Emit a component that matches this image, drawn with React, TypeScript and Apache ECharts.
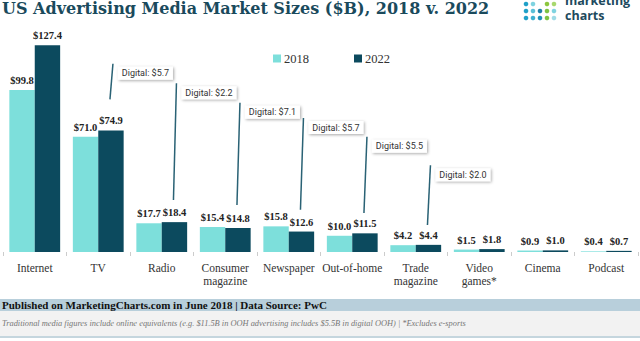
import React, { useEffect, useRef } from "react";
import * as echarts from "echarts";

const categories = [
  "Internet",
  "TV",
  "Radio",
  "Consumer\nmagazine",
  "Newspaper",
  "Out-of-home",
  "Trade\nmagazine",
  "Video\ngames*",
  "Cinema",
  "Podcast",
];
const values2018 = [99.8, 71.0, 17.7, 15.4, 15.8, 10.0, 4.2, 1.5, 0.9, 0.4];
const values2022 = [127.4, 74.9, 18.4, 14.8, 12.6, 11.5, 4.4, 1.8, 1.0, 0.7];

// digital callouts: category index, line top ($B), line bottom ($B), label
const digitalCats = [1, 2, 3, 4, 5, 6];
const digitalTop = [116, 104, 92, 82.5, 71, 53.5];
const digitalBottom = [94, 32, 29, 26, 24, 16.6];
const digitalLabels = [
  "Digital: $5.7",
  "Digital: $2.2",
  "Digital: $7.1",
  "Digital: $5.7",
  "Digital: $5.5",
  "Digital: $2.0",
];

const C2018 = "#7ddfdb";
const C2022 = "#0c4a5e";
const SERIF = "'Liberation Serif', serif";

export default function App() {
  const ref = useRef<HTMLDivElement>(null);
  useEffect(() => {
    if (!ref.current) return;
    const chart = echarts.init(ref.current, undefined, { renderer: "svg" });
    const valueLabel = {
      show: true,
      position: "top",
      distance: 4,
      fontFamily: SERIF,
      fontWeight: "bold",
      fontSize: 10.5,
      color: "#222",
      formatter: (p: any) => "$" + Number(p.value).toFixed(1),
    };
    const dotColors = [
      ["#1fa0c8", "#7fd3e0", null, "#8cc63e", "#a8d86e"],
      ["#1fa0c8", "#5bc0d8", "#1f7fa8", "#7cc242", "#7fd3e0"],
      ["#1fa0c8", "#3fb0d0", "#1f90b8", "#7cc242", "#9fdbe6"],
    ];
    const dots: any[] = [];
    dotColors.forEach((row, r) =>
      row.forEach((c, col) => {
        if (c)
          dots.push({
            type: "circle",
            shape: { cx: 526 + col * 7, cy: 4 + r * 7, r: 2.3 },
            style: { fill: c },
          });
      })
    );
    chart.setOption({
      animation: false,
      title: {
        text: "US Advertising Media Market Sizes ($B), 2018 v. 2022",
        left: 2,
        top: 0,
        padding: 0,
        textStyle: {
          fontFamily: "'DejaVu Serif', serif",
          fontWeight: "bold",
          fontSize: 16,
          color: "#1a4a5c",
        },
      },
      legend: {
        data: ["2018", "2022"],
        left: 268,
        top: 47,
        itemWidth: 8,
        itemHeight: 8,
        itemGap: 45,
        icon: "rect",
        textStyle: { fontFamily: SERIF, fontSize: 12.5, color: "#333", padding: [0, 0, 0, -2] },
      },
      grid: { left: 3, right: 2, top: 41, bottom: 89 },
      xAxis: {
        type: "category",
        data: categories,
        axisLine: { show: false },
        axisTick: { show: true, length: 4, lineStyle: { color: "#ccc" } },
        axisLabel: {
          fontFamily: SERIF,
          fontSize: 11.5,
          color: "#333",
          margin: 9,
          lineHeight: 13,
          interval: 0,
        },
      },
      yAxis: {
        type: "value",
        min: 0,
        max: 130,
        show: false,
        splitLine: { show: false },
      },
      graphic: [
        ...dots,
        {
          type: "text",
          x: 565,
          y: 7.5,
          style: {
            text: "marketing\ncharts",
            font: "bold 12.5px 'Open Sans', sans-serif",
            lineHeight: 15,
            fill: "#1d4a5e",
            verticalAlign: "middle",
          },
        },
        { type: "rect", shape: { x: 0, y: 299, width: 640, height: 12 }, style: { fill: "#b8cfdb" } },
        { type: "rect", shape: { x: 0, y: 311, width: 640, height: 25 }, style: { fill: "#f2f2f2" } },
        { type: "rect", shape: { x: 0, y: 336, width: 640, height: 2 }, style: { fill: "#c5d6de" } },
        {
          type: "text",
          x: 2,
          y: 305,
          style: {
            text: "Published on MarketingCharts.com in June 2018 | Data Source: PwC",
            font: "bold 11px 'Liberation Serif', serif",
            fill: "#111",
            verticalAlign: "middle",
          },
        },
        {
          type: "text",
          x: 2,
          y: 323,
          style: {
            text:
              "Traditional media figures include online equivalents (e.g. $11.5B in OOH advertising includes $5.5B in digital OOH) | *Excludes e-sports",
            font: "italic 8.4px 'Liberation Serif', serif",
            fill: "#777",
            verticalAlign: "middle",
          },
        },
      ],
      series: [
        {
          name: "2018",
          type: "bar",
          data: values2018,
          itemStyle: { color: C2018 },
          barGap: "0%",
          barCategoryGap: "20%",
          label: valueLabel,
        },
        {
          name: "2022",
          type: "bar",
          data: values2022,
          itemStyle: { color: C2022 },
          barGap: "0%",
          barCategoryGap: "20%",
          label: valueLabel,
        },
        {
          name: "digital",
          type: "custom",
          data: digitalCats.map((c, i) => [c, digitalTop[i], digitalBottom[i]]),
          z: 10,
          renderItem: (params: any, api: any) => {
            const cat = api.value(0);
            const top = api.coord([cat, api.value(1)]);
            const bot = api.coord([cat, api.value(2)]);
            const bw = api.size([1, 0])[0];
            const cx = top[0] + bw * 0.2;
            const label = digitalLabels[params.dataIndex];
            const tx = cx + 2;
            const boxW = 55;
            return {
              type: "group",
              children: [
                {
                  type: "line",
                  shape: { x1: cx + 2, y1: top[1], x2: cx - 1, y2: bot[1] },
                  style: { stroke: "#2a6275", lineWidth: 1.5 },
                },
                {
                  type: "rect",
                  shape: { x: tx + 5, y: top[1] + 3, width: boxW, height: 13 },
                  style: {
                    fill: "#fff",
                    shadowBlur: 3,
                    shadowColor: "rgba(0,0,0,0.35)",
                    shadowOffsetX: 1,
                    shadowOffsetY: 1,
                  },
                },
                {
                  type: "text",
                  x: tx + 5 + boxW / 2,
                  y: top[1] + 9.5,
                  style: {
                    text: label,
                    font: "9px Roboto, sans-serif",
                    fill: "#333",
                    align: "center",
                    verticalAlign: "middle",
                  },
                },
              ],
            };
          },
        },
      ],
    });
    return () => chart.dispose();
  }, []);
  return <div ref={ref} style={{ width: 640, height: 341, position: "absolute", left: 0, top: 0 }} />;
}
